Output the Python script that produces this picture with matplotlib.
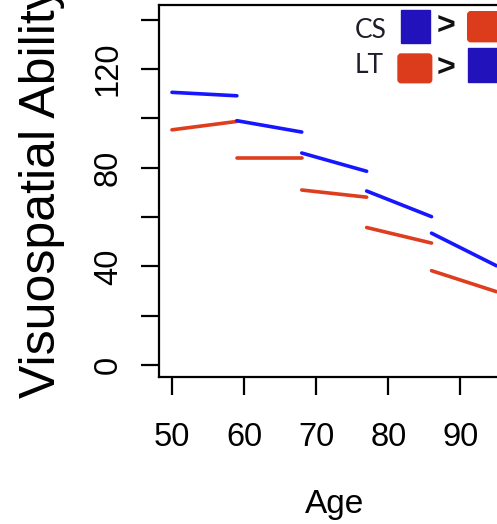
import matplotlib.pyplot as plt
from matplotlib.patches import FancyBboxPatch

plt.rcParams['font.family'] = ['Liberation Sans', 'DejaVu Sans']

# age bins (start / end of each segment)
seg_start = [50, 59, 68, 77, 86]
seg_end = [59, 68, 77, 86, 95]

# CS group (blue) and LT group (red) values at each segment end
cs_start = [110.6, 99.1, 86.0, 70.6, 53.5]
cs_end = [109.2, 94.5, 78.6, 60.2, 40.3]
lt_start = [95.4, 84.0, 71.0, 55.8, 38.3]
lt_end = [98.8, 84.0, 68.1, 49.5, 29.8]

x_ticks = [50, 60, 70, 80, 90]
y_ticks = [0, 20, 40, 60, 80, 100, 120, 140]
y_labels = ['0', '', '40', '', '80', '', '120', '']

W, H = 497, 524
fig = plt.figure(figsize=(W / 100, H / 100), dpi=100)
# axes run past the right edge of the picture (cropped figure)
ax = fig.add_axes([159 / W, 1 - 377 / H, 350.4 / W, 372 / H])

blue = '#1616ff'
red = '#de3d1e'
for i in range(len(seg_start)):
    ax.plot([seg_start[i], seg_end[i]], [cs_start[i], cs_end[i]],
            color=blue, lw=2.6, solid_capstyle='round')
    ax.plot([seg_start[i], seg_end[i]], [lt_start[i], lt_end[i]],
            color=red, lw=2.6, solid_capstyle='round')

ax.set_xlim(48.2, 96.8)
ax.set_ylim(-4.8, 146)
ax.set_xticks(x_ticks)
ax.set_yticks(y_ticks)
ax.set_yticklabels(y_labels)
for s in ax.spines.values():
    s.set_linewidth(1.6)
ax.tick_params(axis='both', length=13.3, width=1.6, labelsize=23.5)
ax.tick_params(axis='x', pad=19)
ax.tick_params(axis='y', pad=12)
for lab in ax.get_yticklabels():
    lab.set_rotation(90)
    lab.set_va('center')

ax.set_xlabel('Age', fontsize=24)
ax.xaxis.set_label_coords(0.5, -0.3)
ax.set_ylabel('Visuospatial Ability', fontsize=36)
ax.yaxis.set_label_coords(-0.267, 0.5)


# legend-like key at the top right, placed in pixel coords
def key_box(x, y, w, h, color, rounded=False):
    style = 'round,pad=0,rounding_size=0.006' if rounded else 'square,pad=0'
    fig.patches.append(FancyBboxPatch((x / W, 1 - (y + h) / H), w / W, h / H,
                                      boxstyle=style, color=color,
                                      transform=fig.transFigure, figure=fig))


kblue = '#2112bb'
kred = '#dc3b1c'
fig.text(371 / W, 1 - 31 / H, 'CS', fontsize=19, family='Lato',
         ha='center', va='center', color='#1e1e2a')
fig.text(369.5 / W, 1 - 66 / H, 'LT', fontsize=19, family='Lato',
         ha='center', va='center', color='#1e1e2a')
fig.text(446 / W, 1 - 27 / H, '>', fontsize=23, fontweight='bold',
         ha='center', va='center', color='#111')
fig.text(446 / W, 1 - 69 / H, '>', fontsize=23, fontweight='bold',
         ha='center', va='center', color='#111')
key_box(400.7, 10, 29.3, 33.3, kblue)
key_box(467.7, 11.7, 35, 30, kred, rounded=True)
key_box(398, 54, 33.7, 28.7, kred, rounded=True)
key_box(468, 48, 35, 33.7, kblue)

fig.savefig('out.png', dpi=100)
